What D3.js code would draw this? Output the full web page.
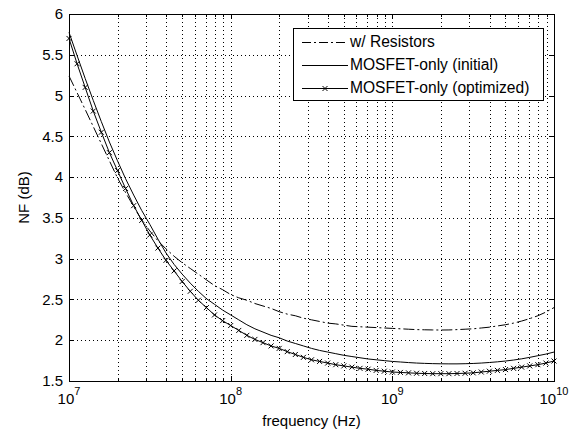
<!DOCTYPE html>
<html>
<head>
<meta charset="utf-8">
<script src="https://d3js.org/d3.v7.min.js"></script>
<style>
  body { margin: 0; background: #fff; }
  text { font-family: "Liberation Sans", Arial, Helvetica, sans-serif; fill: #000; }
</style>
</head>
<body>
<div id="chart"></div>
<script>
// frequency points, as log10(Hz)
var freqExp = [7.00, 7.05, 7.10, 7.15, 7.20, 7.25, 7.30, 7.35, 7.40, 7.45,
               7.50, 7.55, 7.60, 7.65, 7.70, 7.75, 7.80, 7.85, 7.90, 7.95,
               8.00, 8.05, 8.10, 8.15, 8.20, 8.25, 8.30, 8.35, 8.40, 8.45,
               8.50, 8.55, 8.60, 8.65, 8.70, 8.75, 8.80, 8.85, 8.90, 8.95,
               9.00, 9.05, 9.10, 9.15, 9.20, 9.25, 9.30, 9.35, 9.40, 9.45,
               9.50, 9.55, 9.60, 9.65, 9.70, 9.75, 9.80, 9.85, 9.90, 9.95, 10.00];

// NF (dB) for each series
var nfResistors = [5.24, 5.035, 4.83, 4.62, 4.41, 4.20, 3.99, 3.81, 3.64, 3.47,
                   3.34, 3.22, 3.12, 3.03, 2.95, 2.88, 2.81, 2.74, 2.67, 2.62,
                   2.56, 2.52, 2.49, 2.45, 2.42, 2.39, 2.35, 2.32, 2.30, 2.27,
                   2.25, 2.23, 2.21, 2.20, 2.185, 2.17, 2.165, 2.16, 2.155, 2.15,
                   2.145, 2.14, 2.135, 2.13, 2.128, 2.126, 2.125, 2.126, 2.13, 2.135,
                   2.14, 2.15, 2.16, 2.175, 2.19, 2.21, 2.235, 2.265, 2.30, 2.345, 2.40];

var nfInitial = [5.775, 5.49, 5.21, 4.94, 4.68, 4.43, 4.20, 3.98, 3.78, 3.59,
                 3.42, 3.24, 3.07, 2.93, 2.81, 2.70, 2.60, 2.51, 2.44, 2.37,
                 2.31, 2.25, 2.19, 2.14, 2.10, 2.06, 2.03, 1.99, 1.96, 1.93,
                 1.90, 1.875, 1.855, 1.835, 1.815, 1.80, 1.785, 1.77, 1.76, 1.75,
                 1.74, 1.733, 1.726, 1.72, 1.716, 1.713, 1.711, 1.71, 1.71, 1.712,
                 1.715, 1.72, 1.727, 1.735, 1.745, 1.757, 1.772, 1.79, 1.81, 1.83, 1.855];

var nfOptimized = [5.70, 5.39, 5.10, 4.81, 4.55, 4.30, 4.08, 3.86, 3.65, 3.47,
                   3.29, 3.13, 2.98, 2.85, 2.72, 2.60, 2.49, 2.40, 2.31, 2.24,
                   2.18, 2.12, 2.06, 2.01, 1.97, 1.93, 1.90, 1.86, 1.825, 1.79,
                   1.76, 1.74, 1.72, 1.70, 1.685, 1.67, 1.655, 1.645, 1.63, 1.62,
                   1.61, 1.605, 1.60, 1.595, 1.592, 1.59, 1.59, 1.59, 1.592, 1.595,
                   1.60, 1.61, 1.62, 1.63, 1.64, 1.655, 1.67, 1.685, 1.70, 1.72, 1.745];

var seriesNames = ["w/ Resistors", "MOSFET-only (initial)", "MOSFET-only (optimized)"];
var yTicks = [1.5, 2, 2.5, 3, 3.5, 4, 4.5, 5, 5.5, 6];
var xDecades = [7, 8, 9, 10];

// set the dimensions and margins of the graph
var margin = {top: 14, right: 20, bottom: 50, left: 69},
    width = 574 - margin.left - margin.right,
    height = 431 - margin.top - margin.bottom;

var svg = d3.select("#chart")
  .append("svg")
    .attr("width", 574)
    .attr("height", 431)
  .append("g")
    .attr("transform", "translate(" + margin.left + "," + margin.top + ")");

var x = d3.scaleLog().domain([1e7, 1e10]).range([0, width]);
var y = d3.scaleLinear().domain([1.5, 6]).range([height, 0]);

// all log ticks (major + minor)
var xAll = x.ticks();

// grid
svg.append("g").selectAll("line.vg")
  .data(xAll.filter(function(d) { return d > 1e7 && d < 1e10; }))
  .enter().append("line")
    .attr("x1", function(d) { return Math.round(x(d)) + 0.5; })
    .attr("x2", function(d) { return Math.round(x(d)) + 0.5; })
    .attr("y1", 0).attr("y2", height)
    .attr("stroke", "#000").attr("stroke-dasharray", "1,3");
svg.append("g").selectAll("line.hg")
  .data(yTicks.slice(1, -1))
  .enter().append("line")
    .attr("y1", function(d) { return Math.round(y(d)) + 0.5; })
    .attr("y2", function(d) { return Math.round(y(d)) + 0.5; })
    .attr("x1", 0).attr("x2", width)
    .attr("stroke", "#000").attr("stroke-dasharray", "1,3");

// data
var pts = function(vals) {
  return freqExp.map(function(e, i) { return [Math.pow(10, e), vals[i]]; });
};
var line = d3.line()
  .x(function(d) { return x(d[0]); })
  .y(function(d) { return y(d[1]); });

svg.append("path").datum(pts(nfResistors))
  .attr("d", line).attr("fill", "none").attr("stroke", "#000")
  .attr("stroke-width", 1).attr("stroke-dasharray", "11,3,2,3");
svg.append("path").datum(pts(nfInitial))
  .attr("d", line).attr("fill", "none").attr("stroke", "#000").attr("stroke-width", 1);
svg.append("path").datum(pts(nfOptimized))
  .attr("d", line).attr("fill", "none").attr("stroke", "#000").attr("stroke-width", 1);

var cross = "M-2.5,-2.5L2.5,2.5M-2.5,2.5L2.5,-2.5";
svg.append("g").selectAll("path")
  .data(pts(nfOptimized))
  .enter().append("path")
    .attr("d", cross)
    .attr("transform", function(d) { return "translate(" + x(d[0]) + "," + y(d[1]) + ")"; })
    .attr("stroke", "#000").attr("fill", "none");

// box
svg.append("rect")
  .attr("x", 0.5).attr("y", 0.5).attr("width", width).attr("height", height)
  .attr("fill", "none").attr("stroke", "#000");

// ticks inside the box
var tg = svg.append("g").attr("stroke", "#000");
xAll.forEach(function(d) {
  var major = Math.abs(Math.log10(d) - Math.round(Math.log10(d))) < 1e-9;
  var len = major ? 5 : 3;
  var px = Math.round(x(d)) + 0.5;
  tg.append("line").attr("x1", px).attr("x2", px).attr("y1", height).attr("y2", height - len);
  tg.append("line").attr("x1", px).attr("x2", px).attr("y1", 0).attr("y2", len);
});
yTicks.forEach(function(d) {
  var py = Math.round(y(d)) + 0.5;
  tg.append("line").attr("x1", 0).attr("x2", 5).attr("y1", py).attr("y2", py);
  tg.append("line").attr("x1", width).attr("x2", width - 5).attr("y1", py).attr("y2", py);
});

// y tick labels
svg.append("g").selectAll("text")
  .data(yTicks)
  .enter().append("text")
    .attr("x", -6)
    .attr("y", function(d) { return y(d); })
    .attr("dy", "0.35em")
    .attr("text-anchor", "end")
    .style("font-size", "15px")
    .text(function(d) { return d; });

// x tick labels: 10^n
xDecades.forEach(function(n) {
  var t = svg.append("text")
    .attr("x", x(Math.pow(10, n)))
    .attr("y", height + 23)
    .attr("text-anchor", "middle")
    .style("font-size", "15px");
  t.append("tspan").text("10");
  t.append("tspan").attr("dy", -9).style("font-size", "11px").text(n);
});

// axis labels
svg.append("text")
  .attr("x", width / 2).attr("y", height + 45)
  .attr("text-anchor", "middle").style("font-size", "15px")
  .text("frequency (Hz)");
svg.append("text")
  .attr("transform", "translate(" + (-40) + "," + (height / 2) + ") rotate(-90)")
  .attr("text-anchor", "middle").style("font-size", "15px")
  .text("NF (dB)");

// legend
var lg = svg.append("g").attr("transform", "translate(" + (293 - margin.left) + "," + (28 - margin.top) + ")");
lg.append("rect")
  .attr("x", 0.5).attr("y", 0.5).attr("width", 250).attr("height", 72)
  .attr("fill", "#fff").attr("stroke", "#000");
var rows = [14, 37, 60];
seriesNames.forEach(function(name, i) {
  var l = lg.append("line")
    .attr("x1", 9).attr("x2", 55).attr("y1", rows[i] + 0.5).attr("y2", rows[i] + 0.5)
    .attr("stroke", "#000");
  if (i === 0) l.attr("stroke-dasharray", "9,3,2,3");
  if (i === 2) lg.append("path").attr("d", cross)
    .attr("transform", "translate(32," + (rows[i] + 0.5) + ")")
    .attr("stroke", "#000").attr("fill", "none");
  lg.append("text")
    .attr("x", 57).attr("y", rows[i]).attr("dy", "0.35em")
    .style("font-size", "15.6px")
    .text(name);
});
</script>
</body>
</html>
